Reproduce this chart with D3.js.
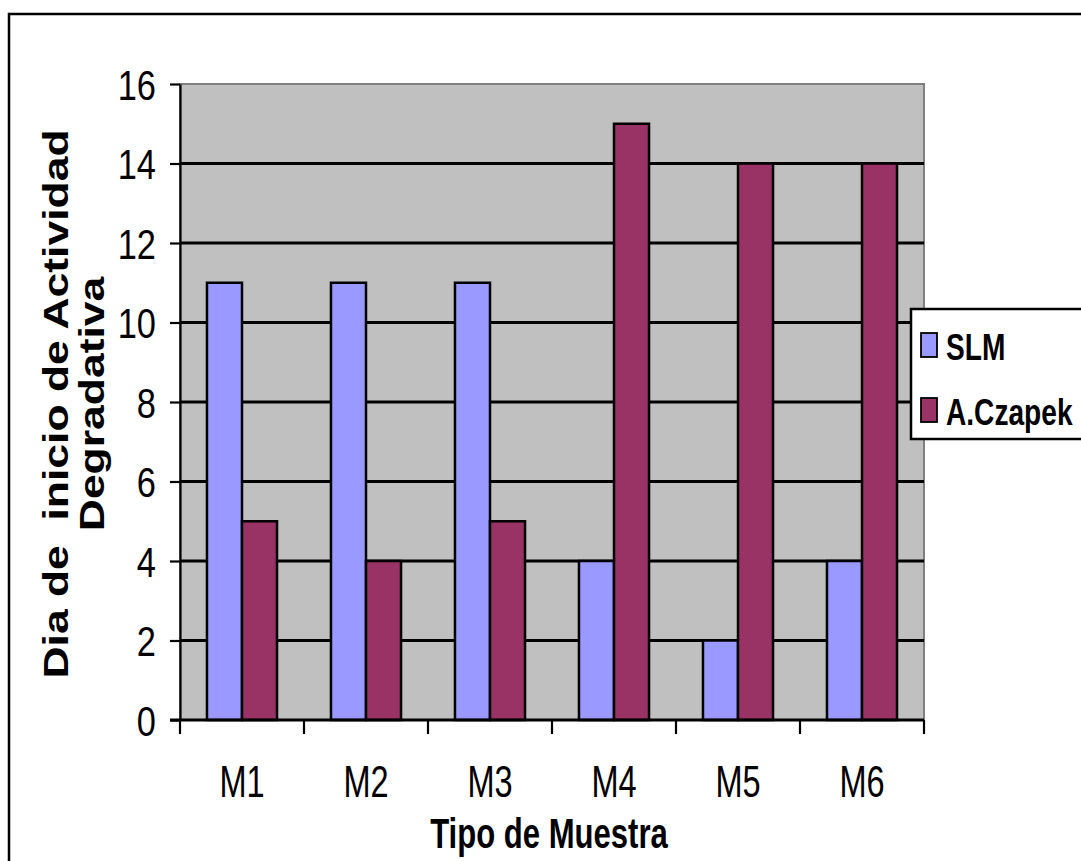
<!DOCTYPE html>
<html>
<head>
<meta charset="utf-8">
<script src="https://cdn.jsdelivr.net/npm/d3@7/dist/d3.min.js"></script>
<style>
  html, body { margin: 0; padding: 0; background: #fff; }
  svg { display: block; }
</style>
</head>
<body>
<svg id="chart" width="1081" height="861"></svg>
<script>
// Samples, series and the day on which degradation activity began
const categories = ["M1", "M2", "M3", "M4", "M5", "M6"];
const seriesNames = ["SLM", "A.Czapek"];
const slmValues = [11, 11, 11, 4, 2, 4];
const czapekValues = [5, 4, 5, 15, 14, 14];
const yTicks = [0, 2, 4, 6, 8, 10, 12, 14, 16];
const seriesColors = ["#9999FF", "#993366"];

const svg = d3.select("#chart");
const W = 1081, H = 861;
const plot = { left: 180, top: 84, right: 924, bottom: 720 };

// outer chart frame (runs past the right and bottom edges)
svg.append("rect")
  .attr("x", 9).attr("y", 14).attr("width", W + 20).attr("height", H + 20)
  .attr("fill", "#fff").attr("stroke", "#000").attr("stroke-width", 2.5);

const x = d3.scaleBand().domain(categories).range([plot.left, plot.right]).padding(0);
const xInner = d3.scaleBand().domain(seriesNames).range([0, x.bandwidth()])
  .paddingInner(0).paddingOuter(0.77);
const y = d3.scaleLinear().domain([0, 16]).range([plot.bottom, plot.top]);

// plot background
svg.append("rect")
  .attr("x", plot.left).attr("y", plot.top)
  .attr("width", plot.right - plot.left).attr("height", plot.bottom - plot.top)
  .attr("fill", "#C0C0C0").attr("stroke", "#808080").attr("stroke-width", 2);

// horizontal gridlines
svg.append("g").selectAll("line")
  .data(yTicks.filter(v => v > 0 && v < 16))
  .join("line")
  .attr("x1", plot.left).attr("x2", plot.right)
  .attr("y1", d => y(d)).attr("y2", d => y(d))
  .attr("stroke", "#000").attr("stroke-width", 2.8);

// bars
const rows = categories.map((c, i) => ({ cat: c, vals: [slmValues[i], czapekValues[i]] }));
svg.append("g").selectAll("g")
  .data(rows)
  .join("g")
  .attr("transform", d => `translate(${x(d.cat)},0)`)
  .selectAll("rect")
  .data(d => d.vals.map((v, k) => ({ key: seriesNames[k], v, k })))
  .join("rect")
  .attr("x", d => xInner(d.key))
  .attr("width", xInner.bandwidth())
  .attr("y", d => y(d.v))
  .attr("height", d => y(0) - y(d.v))
  .attr("fill", d => seriesColors[d.k])
  .attr("stroke", "#000").attr("stroke-width", 2.5);

// y axis
const yAxis = svg.append("g")
  .attr("transform", `translate(${plot.left},0)`)
  .call(d3.axisLeft(y).tickValues(yTicks).tickSize(10).tickSizeOuter(0).tickFormat(d3.format("d")));
yAxis.select(".domain").attr("stroke", "#000").attr("stroke-width", 2.2);
yAxis.selectAll(".tick line").attr("stroke", "#000").attr("stroke-width", 2.2);
yAxis.selectAll(".tick text")
  .attr("x", 0).attr("dy", "0.36em")
  .attr("transform", "translate(-24,0) scale(0.8,1)")
  .attr("fill", "#000")
  .style("font-family", "'Liberation Sans Narrow', 'Liberation Sans', Arial, sans-serif")
  .style("font-size", "43px");

// x axis: line, category boundary ticks and centred labels
svg.append("line")
  .attr("x1", plot.left - 10).attr("x2", plot.right)
  .attr("y1", plot.bottom).attr("y2", plot.bottom)
  .attr("stroke", "#000").attr("stroke-width", 2.8);
const bounds = categories.map(c => x(c)).concat([plot.right]);
svg.append("g").selectAll("line")
  .data(bounds)
  .join("line")
  .attr("x1", d => d).attr("x2", d => d)
  .attr("y1", plot.bottom).attr("y2", plot.bottom + 14)
  .attr("stroke", "#000").attr("stroke-width", 2.2);

const xAxis = svg.append("g")
  .attr("transform", `translate(0,${plot.bottom})`)
  .call(d3.axisBottom(x).tickSize(0).tickSizeOuter(0));
xAxis.select(".domain").remove();
xAxis.selectAll(".tick text")
  .attr("y", 0).attr("dy", 0)
  .attr("transform", "translate(0,77) scale(0.74,1)")
  .attr("fill", "#000")
  .style("font-family", "'Liberation Sans Narrow', 'Liberation Sans', Arial, sans-serif")
  .style("font-size", "44px");

// axis titles
svg.append("text")
  .attr("transform", `translate(${(plot.left + plot.right) / 2 - 3},848) scale(0.74,1)`)
  .attr("text-anchor", "middle")
  .style("font-family", "'Liberation Sans', Arial, sans-serif")
  .style("font-weight", "bold").style("font-size", "42px")
  .text("Tipo de Muestra");

const yTitleLines = ["Dia de\u00a0\u00a0inicio de Actividad", "Degradativa"];
svg.append("g").selectAll("text")
  .data(yTitleLines)
  .join("text")
  .attr("transform", (d, i) => `translate(${68 + i * 36},404) rotate(-90) scale(1.27,1)`)
  .attr("text-anchor", "middle")
  .style("font-family", "'Liberation Sans', Arial, sans-serif")
  .style("font-weight", "bold").style("font-size", "35px")
  .text(d => d);

// legend
const legend = svg.append("g");
legend.append("rect")
  .attr("x", 911).attr("y", 309).attr("width", 200).attr("height", 130)
  .attr("fill", "#fff").attr("stroke", "#000").attr("stroke-width", 2.5);
const items = legend.selectAll("g.item")
  .data(seriesNames)
  .join("g").attr("class", "item")
  .attr("transform", (d, i) => `translate(921,${333 + i * 65})`);
items.append("rect")
  .attr("width", 16).attr("height", 24)
  .attr("fill", (d, i) => seriesColors[i])
  .attr("stroke", "#000").attr("stroke-width", 1.8);
items.append("text")
  .attr("transform", "translate(25,27) scale(0.76,1)")
  .style("font-family", "'Liberation Sans', Arial, sans-serif")
  .style("font-weight", "bold").style("font-size", "37px")
  .text(d => d);
</script>
</body>
</html>
